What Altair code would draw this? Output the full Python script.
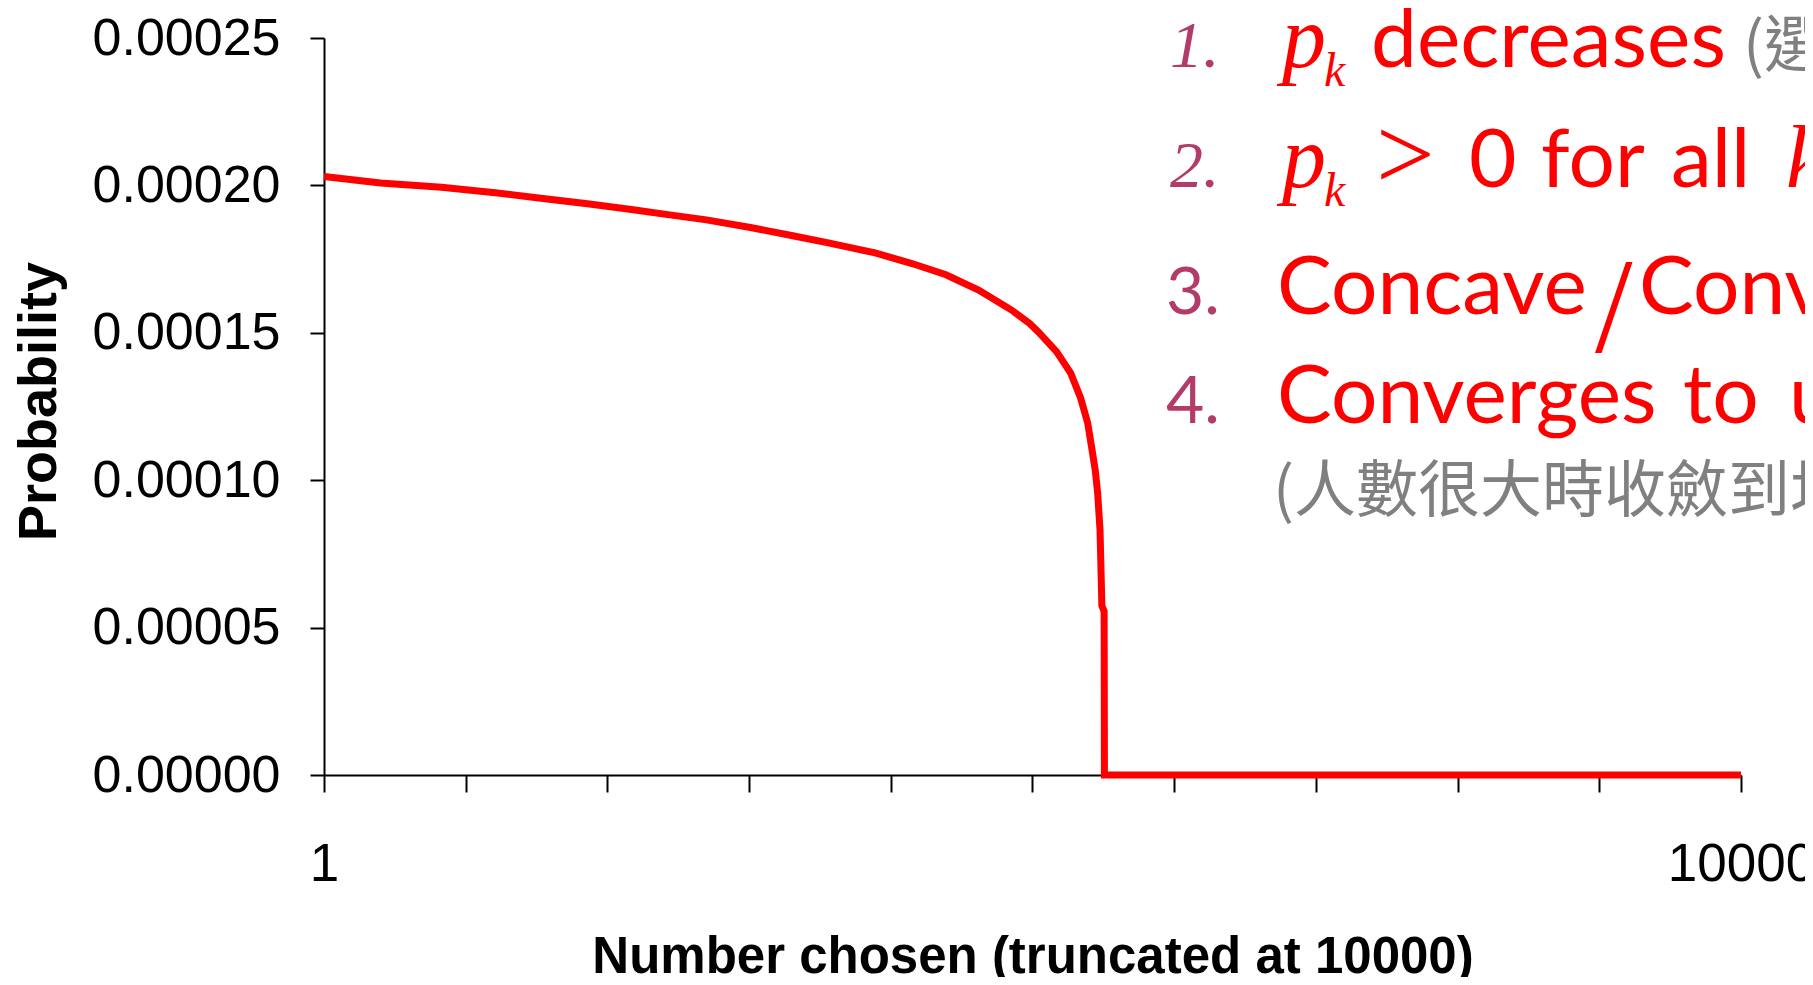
import altair as alt
import pandas as pd

# ---- data ----
numbers = [1, 400, 830, 1210, 1560, 1860, 2170, 2440, 2700, 3010,
           3300, 3560, 3890, 4150, 4390, 4620, 4850, 4980, 5040, 5170,
           5270, 5340, 5390, 5415, 5443, 5460, 5477, 5490, 5506, 5508,
           10000]
probabilities = [0.0002030, 0.0002008, 0.0001994, 0.0001975, 0.0001955,
                 0.0001938, 0.0001918, 0.0001900, 0.0001883, 0.0001857,
                 0.0001830, 0.0001805, 0.0001771, 0.0001735, 0.0001697,
                 0.0001645, 0.0001578, 0.0001532, 0.0001504, 0.0001436,
                 0.0001363, 0.0001279, 0.0001194, 0.0001120, 0.0001035,
                 0.0000958, 0.0000831, 0.0000575, 0.0000555, 0.0,
                 0.0]
x_ticks = [1, 1000, 2000, 3000, 4000, 5000, 6000, 7000, 8000, 9000, 10000]
x_tick_labels = ["1", "", "", "", "", "", "", "", "", "", "10000"]
y_ticks = [0.0, 0.00005, 0.00010, 0.00015, 0.00020, 0.00025]

df = pd.DataFrame({"k": numbers, "p": probabilities})

RED = "#ff0000"
PURPLE = "#b33b6a"
GRAY = "#808080"
AXF = "Liberation Sans"
SERIF = "Liberation Serif"
SANS = "Lato"
CJK = "Noto Sans CJK TC"

W, H = 1417, 737

label_expr = " : ".join(
    [f"datum.value == {v} ? '{t}'" for v, t in zip(x_ticks, x_tick_labels) if t]
) + " : ''"

line = alt.Chart(df).mark_line(color=RED, strokeWidth=7, clip=False).encode(
    x=alt.X("k:Q",
            scale=alt.Scale(domain=[1, 10000], nice=False, zero=False),
            axis=alt.Axis(values=x_ticks, labelExpr=label_expr, grid=False,
                          tickSize=17, tickWidth=2, tickColor="black",
                          domainColor="black", domainWidth=2,
                          labelFont=AXF, labelFontSize=53, labelColor="black",
                          labelPadding=46, labelOverlap=False, labelFlush=False,
                          labelBound=False, labelLimit=0,
                          title="Number chosen (truncated at 10000)",
                          titleFont=AXF, titleFontSize=51, titleFontWeight="bold",
                          titleColor="black", titleBaseline="alphabetic",
                          titleY=197, titleX=W / 2, titleAlign="center")),
    y=alt.Y("p:Q",
            scale=alt.Scale(domain=[0, 0.00025], nice=False, zero=True),
            axis=alt.Axis(values=y_ticks, format=".5f", grid=False,
                          tickSize=14, tickWidth=2, tickColor="black",
                          domainColor="black", domainWidth=2,
                          labelFont=AXF, labelFontSize=52, labelColor="black",
                          labelPadding=30, labelOverlap=False, labelFlush=False,
                          labelBound=False, labelLimit=0,
                          title="Probability",
                          titleFont=AXF, titleFontSize=54, titleFontWeight="bold",
                          titleColor="black", titleAngle=270,
                          titleBaseline="alphabetic", titleAlign="center",
                          titleX=-269, titleY=363)),
)


def note(text, x, y, size, color, font, style="normal"):
    return alt.Chart(pd.DataFrame({"t": [text]})).mark_text(
        align="left", baseline="alphabetic", fontSize=size, color=color,
        font=font, fontStyle=style, clip=False
    ).encode(text="t:N", x=alt.value(x), y=alt.value(y))


L1, L2, L3, L4, L5 = 29, 149, 276, 385, 474
SS = 82   # main sans size
NS = 66   # item number size

notes = [
    note("1.", 846, L1, NS, PURPLE, SERIF, "italic"),
    note("p", 958, L1, 88, RED, SERIF, "italic"),
    note("k", 1000, L1 + 19, 48, RED, SERIF, "italic"),
    note("decreases", 1047, L1, SS, RED, SANS),
    note("(選", 1419, L1, 62, GRAY, CJK),

    note("2.", 846, L2, NS, PURPLE, SERIF, "italic"),
    note("p", 958, L2, 88, RED, SERIF, "italic"),
    note("k", 1000, L2 + 19, 48, RED, SERIF, "italic"),
    note(">", 1052, L2 + 2, 104, RED, SERIF),
    note("0", 1145, L2, SS, RED, SANS),
    note("for", 1217, L2, SS, RED, SANS),
    note("all", 1347, L2, SS, RED, SANS),
    note("k", 1462, L2, 88, RED, SERIF, "italic"),

    note("3.", 842, L3, NS, PURPLE, SANS),
    note("Concave", 953, L3, SS, RED, SANS),
    note("/", 1271, L3 + 38, 135, RED, SERIF),
    note("Convex", 1315, L3, SS, RED, SANS),

    note("4.", 842, L4, NS, PURPLE, SANS),
    note("Converges", 953, L4, SS, RED, SANS),
    note("to", 1359, L4, SS, RED, SANS),
    note("uniform", 1465, L4, SS, RED, SANS),

    note("(人數很大時收斂到均勻分布)", 949, L5, 62, GRAY, CJK),
]

chart = alt.layer(line, *notes).properties(
    width=W, height=H,
    autosize=alt.AutoSizeParams(type="none"),
    padding={"left": 316, "top": 30, "right": 1797 - 316 - W, "bottom": 969 - 30 - H},
).configure_view(stroke=None)

chart.save("out.html", embed_options={"renderer": "svg", "actions": False})
